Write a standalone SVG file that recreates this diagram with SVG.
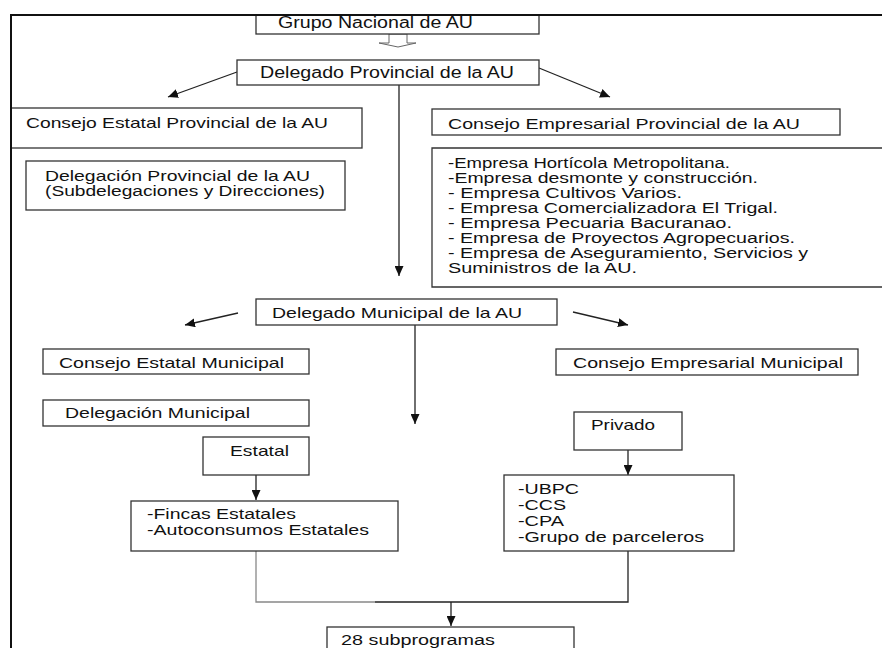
<svg xmlns="http://www.w3.org/2000/svg" width="882" height="648" viewBox="0 0 882 648">
<defs>
<marker id="ah" markerUnits="userSpaceOnUse" markerWidth="11" markerHeight="9" refX="10" refY="4.5" orient="auto">
<path d="M0,0 L10,4.5 L0,9 z" fill="#111"/>
</marker>
<style>
.b{fill:#fff;stroke:#333;stroke-width:1.3}
.t{font-family:"Liberation Sans",Arial,sans-serif;fill:#111}
.f16{font-size:16px}
.f15{font-size:15px}
.f14{font-size:14px}
.c{fill:none;stroke:#222;stroke-width:1.3}
.a{fill:none;stroke:#222;stroke-width:1.3;marker-end:url(#ah)}
</style>
</defs>
<rect width="882" height="648" fill="#fff"/>
<path d="M11,648 V15 H882" fill="none" stroke="#111" stroke-width="2"/>

<g id="connectors">
<polygon points="389,34 389,43 379,43 398,47 416,43 407,43 407,34" fill="#fff" stroke="#666" stroke-width="1"/>
<line class="a" x1="237" y1="72" x2="168" y2="97"/>
<line class="a" x1="539" y1="68" x2="610" y2="97"/>
<line class="a" x1="399" y1="85" x2="399" y2="276"/>
<line class="a" x1="238" y1="313" x2="185" y2="325"/>
<line class="a" x1="573" y1="312" x2="628" y2="325"/>
<line class="a" x1="415" y1="325" x2="415" y2="424"/>
<line class="a" x1="256" y1="475" x2="256" y2="500"/>
<line class="a" x1="628" y1="450" x2="628" y2="475"/>
<path d="M256,551 V602 H375" fill="none" stroke="#888" stroke-width="1.3"/>
<path class="c" d="M375,602 H628 V551"/>
<line class="a" x1="451" y1="602" x2="451" y2="626"/>
</g>

<g id="grupo">
<rect class="b" x="256" y="15" width="283" height="19"/>
<text class="t f16" x="278" y="28" textLength="195" lengthAdjust="spacingAndGlyphs">Grupo Nacional de AU</text>
</g>
<path d="M11,15 H882" fill="none" stroke="#111" stroke-width="2"/>

<g id="delegado-provincial">
<rect class="b" x="237" y="60" width="302" height="25"/>
<text class="t f16" x="260" y="78" textLength="254" lengthAdjust="spacingAndGlyphs">Delegado Provincial de la AU</text>
</g>

<g id="consejo-estatal-provincial">
<rect class="b" x="11" y="108" width="351" height="40"/>
<text class="t f15" x="26" y="128" textLength="302" lengthAdjust="spacingAndGlyphs">Consejo Estatal Provincial de la AU</text>
</g>
<path d="M11,100 V160" fill="none" stroke="#111" stroke-width="2"/>

<g id="delegacion-provincial">
<rect class="b" x="26" y="161" width="319" height="49"/>
<text class="t f14" x="45" y="181" textLength="265" lengthAdjust="spacingAndGlyphs">Delegación Provincial de la AU</text>
<text class="t f14" x="45" y="196" textLength="280" lengthAdjust="spacingAndGlyphs">(Subdelegaciones y Direcciones)</text>
</g>

<g id="consejo-empresarial-provincial">
<rect class="b" x="432" y="109" width="408" height="26"/>
<text class="t f15" x="448" y="129" textLength="352" lengthAdjust="spacingAndGlyphs">Consejo Empresarial Provincial de la AU</text>
</g>

<g id="empresas">
<path class="b" d="M884,148 H432 V287 H884"/>
<text class="t f14" x="448" y="168" textLength="282" lengthAdjust="spacingAndGlyphs">-Empresa Hortícola Metropolitana.</text>
<text class="t f14" x="448" y="183" textLength="310" lengthAdjust="spacingAndGlyphs">-Empresa desmonte y construcción.</text>
<text class="t f14" x="448" y="198" textLength="234" lengthAdjust="spacingAndGlyphs">- Empresa Cultivos Varios.</text>
<text class="t f14" x="448" y="213" textLength="330" lengthAdjust="spacingAndGlyphs">- Empresa Comercializadora El Trigal.</text>
<text class="t f14" x="448" y="228" textLength="284" lengthAdjust="spacingAndGlyphs">- Empresa Pecuaria Bacuranao.</text>
<text class="t f14" x="448" y="243" textLength="347" lengthAdjust="spacingAndGlyphs">- Empresa de Proyectos Agropecuarios.</text>
<text class="t f14" x="448" y="258" textLength="360" lengthAdjust="spacingAndGlyphs">- Empresa de Aseguramiento, Servicios y</text>
<text class="t f14" x="448" y="273" textLength="189" lengthAdjust="spacingAndGlyphs">Suministros de la AU.</text>
</g>

<g id="delegado-municipal">
<rect class="b" x="256" y="299" width="301" height="26"/>
<text class="t f15" x="272" y="318" textLength="250" lengthAdjust="spacingAndGlyphs">Delegado Municipal de la AU</text>
</g>

<g id="consejo-estatal-municipal">
<rect class="b" x="43" y="349" width="266" height="25"/>
<text class="t f15" x="59" y="368" textLength="225" lengthAdjust="spacingAndGlyphs">Consejo Estatal Municipal</text>
</g>

<g id="consejo-empresarial-municipal">
<rect class="b" x="556" y="349" width="302" height="26"/>
<text class="t f15" x="573" y="368" textLength="270" lengthAdjust="spacingAndGlyphs">Consejo Empresarial Municipal</text>
</g>

<g id="delegacion-municipal">
<rect class="b" x="43" y="400" width="266" height="26"/>
<text class="t f15" x="65" y="418" textLength="185" lengthAdjust="spacingAndGlyphs">Delegación Municipal</text>
</g>

<g id="estatal">
<rect class="b" x="203" y="437" width="106" height="38"/>
<text class="t f15" x="230" y="456" textLength="59" lengthAdjust="spacingAndGlyphs">Estatal</text>
</g>

<g id="privado">
<rect class="b" x="574" y="412" width="108" height="38"/>
<text class="t f15" x="591" y="430" textLength="64" lengthAdjust="spacingAndGlyphs">Privado</text>
</g>

<g id="fincas">
<rect class="b" x="131" y="501" width="267" height="50"/>
<text class="t f14" x="147" y="519" textLength="149" lengthAdjust="spacingAndGlyphs">-Fincas Estatales</text>
<text class="t f14" x="147" y="535" textLength="222" lengthAdjust="spacingAndGlyphs">-Autoconsumos Estatales</text>
</g>

<g id="privado-lista">
<rect class="b" x="504" y="475" width="230" height="76"/>
<text class="t f14" x="518" y="494" textLength="61" lengthAdjust="spacingAndGlyphs">-UBPC</text>
<text class="t f14" x="518" y="510" textLength="48" lengthAdjust="spacingAndGlyphs">-CCS</text>
<text class="t f14" x="518" y="526" textLength="46" lengthAdjust="spacingAndGlyphs">-CPA</text>
<text class="t f14" x="518" y="542" textLength="186" lengthAdjust="spacingAndGlyphs">-Grupo de parceleros</text>
</g>

<g id="subprogramas">
<rect class="b" x="327" y="627" width="247" height="30"/>
<text class="t f14" x="341" y="645" textLength="154" lengthAdjust="spacingAndGlyphs">28 subprogramas</text>
</g>
</svg>
